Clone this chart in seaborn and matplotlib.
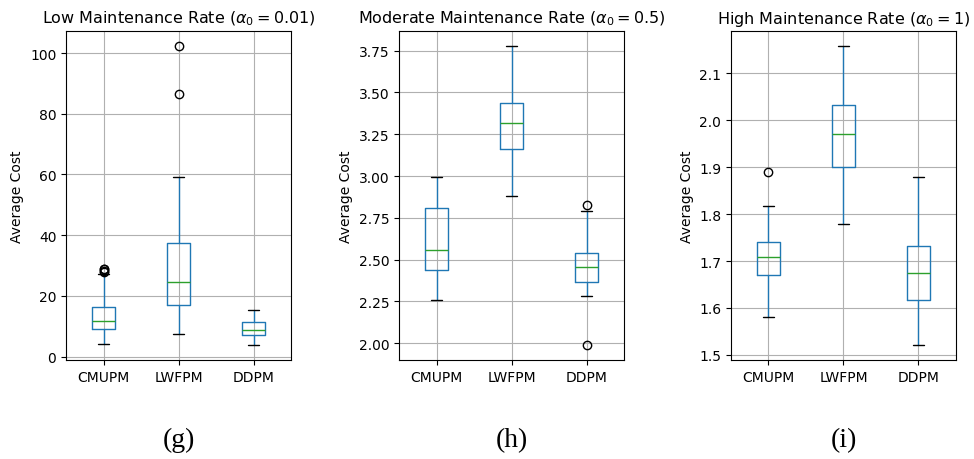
import matplotlib
matplotlib.use("Agg")
import matplotlib.pyplot as plt
import seaborn as sns

sns.set_theme(style="ticks", rc={"axes.grid": True, "grid.color": "#b0b0b0",
                                 "grid.linewidth": 0.8, "axes.edgecolor": "black",
                                 "axes.linewidth": 0.8, "text.color": "black",
                                 "axes.labelcolor": "black", "xtick.color": "black",
                                 "ytick.color": "black"})
plt.rcParams["font.family"] = ["DejaVu Sans"]

methods = ["CMUPM", "LWFPM", "DDPM"]

titles = [r"Low Maintenance Rate ($\alpha_0 = 0.01$)",
          r"Moderate Maintenance Rate ($\alpha_0 = 0.5$)",
          r"High Maintenance Rate ($\alpha_0 = 1$)"]
captions = ["(g)", "(h)", "(i)"]

# five-number summaries per panel: [CMUPM, LWFPM, DDPM]
low_whislo = [4.2, 7.5, 3.8]
low_q1 = [9.1, 17.0, 7.0]
low_med = [11.8, 24.7, 8.8]
low_q3 = [16.3, 37.3, 11.4]
low_whishi = [27.2, 59.1, 15.5]
low_fliers = [[27.8, 28.3, 28.8, 29.0], [86.6, 102.3], []]

mod_whislo = [2.259, 2.880, 2.283]
mod_q1 = [2.439, 3.163, 2.367]
mod_med = [2.557, 3.319, 2.455]
mod_q3 = [2.808, 3.439, 2.541]
mod_whishi = [2.996, 3.778, 2.788]
mod_fliers = [[], [], [2.828, 1.988]]

high_whislo = [1.580, 1.778, 1.521]
high_q1 = [1.671, 1.901, 1.618]
high_med = [1.708, 1.971, 1.674]
high_q3 = [1.740, 2.033, 1.733]
high_whishi = [1.818, 2.158, 1.880]
high_fliers = [[1.890], [], []]

panels = [
    (low_whislo, low_q1, low_med, low_q3, low_whishi, low_fliers),
    (mod_whislo, mod_q1, mod_med, mod_q3, mod_whishi, mod_fliers),
    (high_whislo, high_q1, high_med, high_q3, high_whishi, high_fliers),
]

BLUE = "#1f77b4"
GREEN = "#2ca02c"

fig = plt.figure(figsize=(9.74, 4.6), dpi=100)
lefts = [0.0678, 0.4097, 0.7505]
for i, (wl, q1, md, q3, wh, fl) in enumerate(panels):
    ax = fig.add_axes([lefts[i], 0.2152, 0.231, 0.715])
    stats = []
    for j, m in enumerate(methods):
        stats.append(dict(label=m, whislo=wl[j], q1=q1[j], med=md[j],
                          q3=q3[j], whishi=wh[j], fliers=fl[j]))
    ax.bxp(stats, widths=0.3,
           boxprops=dict(color=BLUE, linewidth=1.0),
           whiskerprops=dict(color=BLUE, linewidth=1.0),
           capprops=dict(color="black", linewidth=1.0),
           medianprops=dict(color=GREEN, linewidth=1.0),
           flierprops=dict(marker="o", markerfacecolor="none",
                           markeredgecolor="black", markersize=6))
    ax.grid(True)
    ax.set_title(titles[i], fontsize=11.5)
    ax.set_ylabel("Average Cost", fontsize=10)
    ax.tick_params(labelsize=10, length=3.5, width=0.8, colors="black")
    for s in ax.spines.values():
        s.set_color("black")
    cx = lefts[i] + 0.231 / 2
    fig.text(cx, 0.043, captions[i], ha="center", va="center",
             fontsize=20, family=["Liberation Serif", "DejaVu Serif"])

fig.savefig("out.png", dpi=100)
